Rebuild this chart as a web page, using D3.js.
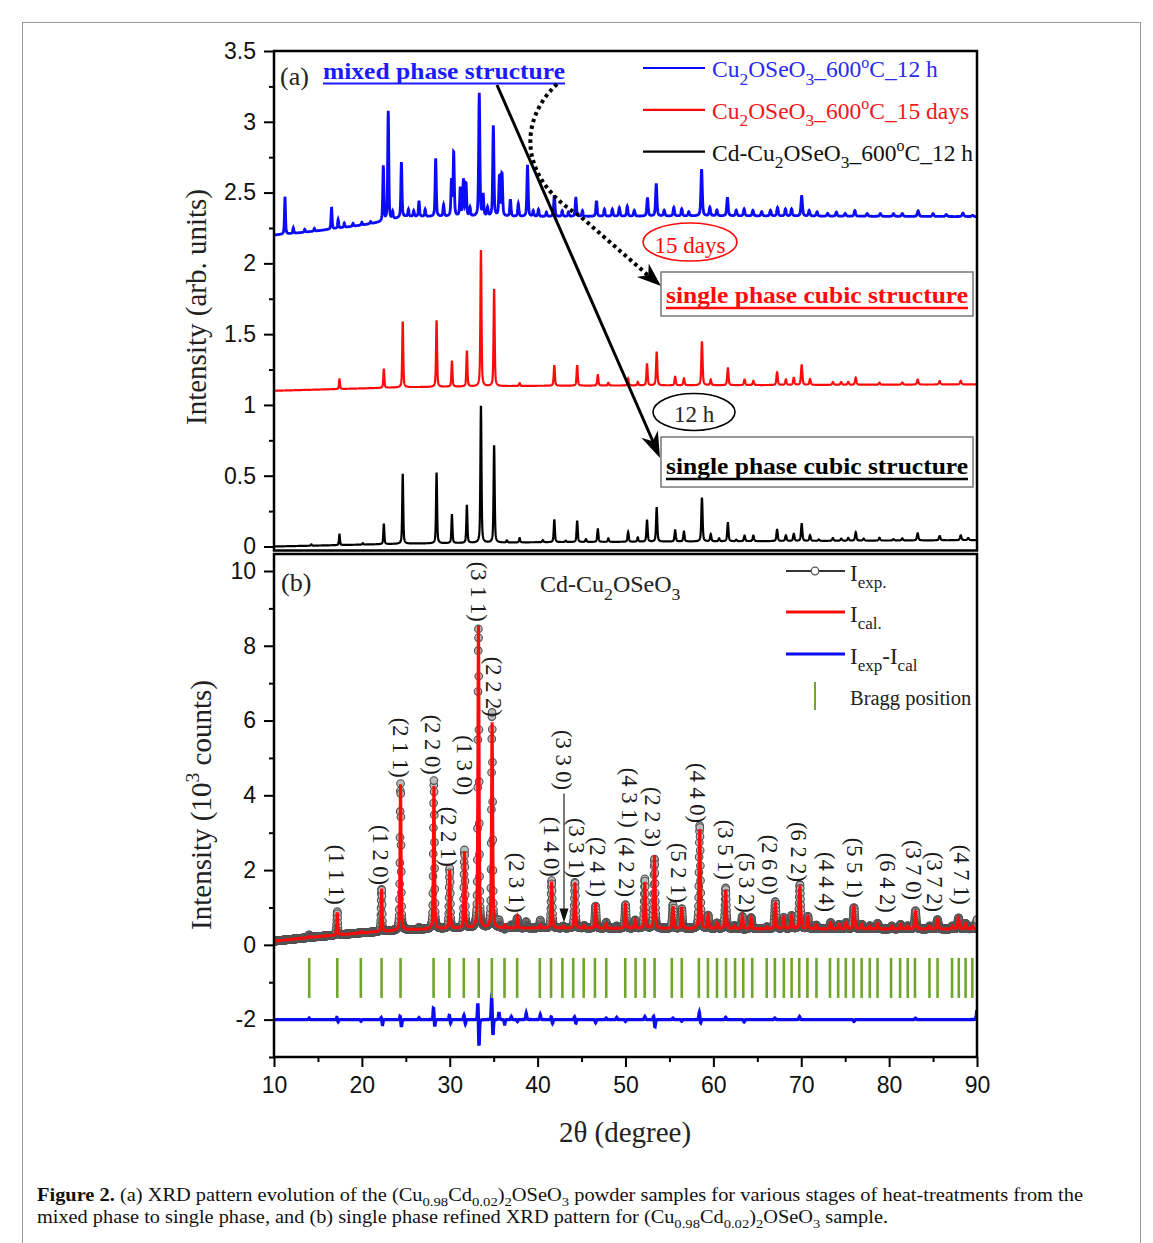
<!DOCTYPE html>
<html><head><meta charset="utf-8">
<script src="https://cdn.jsdelivr.net/npm/d3@7"></script>
<style>body{margin:0;background:#fff}</style>
</head><body>
<script>
// ---------------- DATA ----------------
// (a) panel: peak lists [2theta, net height] and baselines [2theta, value]
const blackBase = [[10,0.0],[25,0.02],[40,0.03],[90,0.045]];
const blackPeaks = [[14.25,0.01],[17.45,0.075],[20.1,0.01],[22.5,0.145],[24.65,0.495],[28.5,0.5],[30.25,0.2],[31.95,0.265],[33.55,0.975],[35.05,0.69],[36.5,0.015],[37.95,0.03],[40.6,0.015],[41.9,0.16],[43.2,0.01],[44.5,0.15],[45.5,0.02],[46.85,0.09],[48.05,0.025],[50.3,0.07],[51.4,0.03],[52.45,0.15],[53.55,0.24],[55.65,0.08],[56.65,0.07],[58.7,0.31],[59.7,0.05],[60.65,0.02],[61.65,0.13],[62.6,0.01],[63.55,0.04],[64.55,0.04],[67.25,0.08],[68.25,0.04],[69.15,0.05],[70.05,0.12],[71.0,0.04],[72.0,0.01],[73.6,0.02],[74.55,0.015],[75.35,0.02],[76.2,0.06],[77.1,0.015],[78.9,0.02],[80.5,0.01],[81.5,0.015],[83.25,0.05],[85.75,0.03],[88.15,0.035],[89.0,0.015]];
const redBase = [[10,1.1],[25,1.125],[40,1.135],[90,1.145]];
const redPeaks = [[17.45,0.07],[22.5,0.135],[24.65,0.465],[28.5,0.47],[30.25,0.18],[31.95,0.25],[33.55,0.97],[35.05,0.69],[37.95,0.02],[41.9,0.145],[44.5,0.145],[46.85,0.075],[48.05,0.02],[50.3,0.05],[51.4,0.025],[52.45,0.15],[53.55,0.235],[55.65,0.06],[56.65,0.05],[58.7,0.31],[59.7,0.04],[61.65,0.12],[63.55,0.04],[64.55,0.03],[67.25,0.09],[68.25,0.04],[69.15,0.05],[70.05,0.14],[71.0,0.04],[73.6,0.02],[74.55,0.02],[75.35,0.02],[76.2,0.05],[78.9,0.015],[81.5,0.015],[83.25,0.035],[85.75,0.025],[88.15,0.025]];
const blueBase = [[10,2.2],[12,2.21],[15,2.23],[20,2.27],[22,2.29],[25,2.33],[40,2.33],[60,2.335],[90,2.33]];
const bluePeaks = [[11.25,0.26],[12.2,0.04],[13.5,0.02],[14.6,0.02],[16.55,0.15],[17.3,0.06],[18.0,0.03],[19.0,0.02],[20.0,0.02],[21.0,0.015],[22.44,0.39],[23.0,0.77],[23.5,0.05],[24.5,0.39],[25.3,0.05],[25.9,0.04],[26.5,0.11],[27.2,0.05],[28.4,0.41],[29.3,0.08],[30.2,0.25],[30.45,0.45],[31.2,0.2],[31.55,0.25],[31.85,0.23],[32.3,0.06],[33.36,0.87],[33.8,0.15],[34.3,0.06],[34.96,0.64],[35.65,0.28],[35.95,0.3],[36.9,0.12],[37.8,0.09],[38.85,0.36],[39.5,0.04],[40.1,0.05],[41.0,0.03],[41.9,0.15],[42.8,0.04],[43.5,0.03],[44.35,0.13],[45.1,0.04],[46.7,0.11],[47.6,0.05],[48.5,0.05],[49.3,0.06],[50.2,0.07],[51.0,0.04],[52.5,0.13],[53.5,0.23],[54.4,0.04],[55.5,0.06],[56.4,0.05],[57.2,0.03],[58.66,0.33],[59.6,0.06],[60.4,0.04],[61.6,0.13],[62.6,0.04],[63.5,0.05],[64.5,0.04],[65.5,0.03],[66.5,0.04],[67.3,0.06],[68.2,0.05],[68.9,0.05],[70.05,0.14],[70.9,0.04],[71.8,0.03],[73.0,0.02],[74.0,0.03],[75.0,0.02],[76.1,0.04],[77.5,0.02],[79.0,0.02],[80.5,0.02],[81.5,0.02],[83.3,0.04],[85.0,0.02],[86.5,0.015],[88.4,0.025],[89.5,0.01]];

// (b) panel: refined pattern (10^3 counts)
const calBase = [[10,0.1],[15,0.22],[20,0.32],[25,0.4],[30,0.44],[40,0.45],[60,0.43],[90,0.42]];
const calPeaks = [[14.0,0.03],[17.2,0.6],[19.9,0.04],[22.25,1.12],[24.4,3.9],[28.2,3.82],[30.0,1.55],[31.68,2.05],[33.27,8.15],[34.82,5.5],[36.25,0.08],[37.68,0.3],[40.3,0.08],[41.6,1.24],[42.9,0.05],[44.25,1.2],[45.3,0.07],[46.6,0.67],[47.8,0.12],[50.0,0.68],[51.1,0.22],[52.2,1.24],[53.3,1.95],[55.4,0.6],[56.4,0.57],[58.45,2.65],[59.4,0.35],[60.4,0.15],[61.4,1.03],[62.4,0.08],[63.3,0.33],[64.3,0.3],[66.1,0.05],[67.05,0.7],[68.0,0.3],[68.9,0.35],[69.85,1.13],[70.75,0.33],[71.7,0.1],[73.35,0.17],[74.3,0.12],[75.1,0.17],[76.0,0.62],[76.9,0.12],[77.8,0.08],[78.7,0.15],[80.3,0.08],[81.3,0.12],[82.1,0.08],[83.0,0.45],[84.6,0.08],[85.5,0.25],[87.2,0.08],[87.9,0.3],[88.7,0.15],[89.5,0.08]];
// I_exp - I_cal features [2theta, amplitude]
const diffFeatures = [[14.0,0.04],[17.15,0.06],[17.3,-0.06],[19.9,-0.04],[22.2,0.06],[22.35,-0.14],[24.35,0.1],[24.5,-0.2],[26.5,0.05],[28.15,0.32],[28.3,-0.2],[29.95,0.12],[30.1,-0.1],[31.62,0.12],[31.78,-0.12],[33.2,0.5],[33.33,-0.75],[34.77,0.6],[34.92,-0.45],[35.6,0.2],[36.25,-0.12],[37.0,0.08],[37.7,-0.05],[38.7,0.17],[40.3,0.13],[41.55,0.08],[41.7,-0.1],[44.2,0.08],[44.35,-0.1],[46.6,-0.08],[47.8,0.04],[49.0,0.06],[50.0,-0.05],[52.2,0.08],[53.2,0.1],[53.35,-0.2],[55.4,0.04],[56.4,-0.04],[58.4,0.2],[58.55,-0.1],[61.4,0.06],[63.5,-0.06],[67.0,0.04],[69.8,0.08],[76.0,-0.05],[83.0,0.04],[90.0,0.25]];
const diffOffset = -2;
const braggPositions = [14.01,17.20,19.88,22.24,24.40,28.16,29.96,31.60,33.30,34.79,36.23,37.67,40.25,41.53,42.82,44.05,45.24,46.52,47.81,49.97,51.15,52.18,53.31,55.27,56.40,58.35,59.38,60.41,61.44,62.47,63.40,64.42,66.07,67.00,68.02,68.90,69.77,70.70,71.73,73.27,74.20,75.07,75.95,76.87,77.80,78.68,80.22,81.25,82.12,82.94,84.59,85.51,87.16,87.93,88.70,89.47];
// Miller labels: [text, 2theta, value at the label's lower end]
const millerLabels = [["(1 1 1)",17.1,1.07],["(1 2 0)",22.2,1.6],["(2 1 1)",24.4,4.47],["(2 2 0)",28.1,4.55],["(2 2 1)",29.9,2.09],["(1 3 0)",31.7,4.0],["(3 1 1)",33.3,8.64],["(2 2 2)",35.0,6.1],["(2 3 1)",37.6,0.86],["(1 4 0)",41.6,1.82],["(3 3 0)",43.0,4.14],["(3 3 1)",44.5,1.79],["(2 4 1)",46.8,1.28],["(4 2 2)",50.1,1.28],["(4 3 1)",50.5,3.13],["(2 2 3)",53.1,2.62],["(4 4 0)",58.25,3.26],["(5 2 1)",56.1,1.12],["(3 5 1)",61.4,1.74],["(5 3 2)",63.8,0.86],["(2 6 0)",66.4,1.34],["(6 2 2)",69.7,1.68],["(4 4 4)",72.9,0.88],["(5 5 1)",76.1,1.26],["(6 4 2)",79.9,0.86],["(3 7 0)",82.8,1.2],["(3 7 2)",85.2,0.88],["(4 7 1)",88.3,1.07]];
const millerArrow = [43.0, 4.05, 0.6];
const xTicks = [10,20,30,40,50,60,70,80,90];
const yTicksA = [0,0.5,1,1.5,2,2.5,3,3.5];
const yTicksB = [-2,0,2,4,6,8,10];
const legendA = [
  [["Cu"],["2","sub"],["OSeO"],["3","sub"],["_600"],["o","sup"],["C_12 h"]],
  [["Cu"],["2","sub"],["OSeO"],["3","sub"],["_600"],["o","sup"],["C_15 days"]],
  [["Cd-Cu"],["2","sub"],["OSeO"],["3","sub"],["_600"],["o","sup"],["C_12 h"]]
];
const legendB = [
  [["I"],["exp.","sub"]],
  [["I"],["cal.","sub"]],
  [["I"],["exp","sub"],["-I"],["cal","sub"]],
  [["Bragg position"]]
];

// ---------------- DRAW ----------------
const W = 1153, H = 1243;
const BLUE = "#0b0bf5", RED = "#ff0a0a", GREEN = "#6fa52b";
const svg = d3.select("body").append("svg").attr("width", W).attr("height", H)
  .style("font-family", "'Liberation Serif', serif");

svg.append("rect").attr("x",22.5).attr("y",22.5).attr("width",1118).attr("height",1240)
  .attr("fill","none").attr("stroke","#9a9a9a").attr("stroke-width",1);

const x = d3.scaleLinear().domain([10,90]).range([274,977]);
const yA = d3.scaleLinear().domain([0,3.5]).range([546.5,51]);
const yB = d3.scaleLinear().domain([-3,10]).range([1057,571]);
const fmt = d => String(d);

const grid = d3.range(10, 90.0001, 0.02);
function profile(peaks, base, w0, w1, eta) {
  const bg = d3.scaleLinear().domain(base.map(d=>d[0])).range(base.map(d=>d[1]));
  return grid.map(t => {
    const w = w0 + (w1-w0)*(t-10)/80;
    let s = bg(t);
    for (const [p,h] of peaks) {
      const u = (t-p)/w, u2 = 4*u*u;
      s += h*(eta/(1+u2) + (1-eta)*Math.exp(-Math.LN2*u2));
    }
    return [t, s];
  });
}

function rich(g, xx, yy, parts, o) {
  const t = g.append("text").attr("x",xx).attr("y",yy)
    .attr("font-family", o.family || "'Liberation Serif', serif")
    .attr("font-size", o.size).attr("fill", o.fill || "#111");
  if (o.weight) t.attr("font-weight", o.weight);
  if (o.anchor) t.attr("text-anchor", o.anchor);
  if (o.len) t.attr("textLength", o.len).attr("lengthAdjust","spacingAndGlyphs");
  let cur = 0;
  parts.forEach(p => {
    const s = p[0], kind = p[1];
    let target = 0, fs = o.size;
    if (kind === "sub") { target = o.size*0.32; fs = o.size*0.74; }
    if (kind === "sup") { target = -o.size*0.4; fs = o.size*0.68; }
    t.append("tspan").attr("dy", target-cur).attr("font-size", fs).text(s);
    cur = target;
  });
  return t;
}

const defs = svg.append("defs");
defs.append("clipPath").attr("id","clipA").append("rect").attr("x",274).attr("y",51).attr("width",703).attr("height",499);
defs.append("clipPath").attr("id","clipB").append("rect").attr("x",274).attr("y",555).attr("width",703).attr("height",502);

// ---------- panel (a) ----------
const gA = svg.append("g");
const lineA = d3.line().x(d=>x(d[0])).y(d=>yA(d[1]));
const dA = gA.append("g").attr("clip-path","url(#clipA)");
dA.append("path").datum(profile(blackPeaks, blackBase, 0.12, 0.2, 0.5)).attr("d", lineA)
  .attr("fill","none").attr("stroke","#000").attr("stroke-width",2.2);
dA.append("path").datum(profile(redPeaks, redBase, 0.12, 0.2, 0.5)).attr("d", lineA)
  .attr("fill","none").attr("stroke",RED).attr("stroke-width",2.2);
dA.append("path").datum(profile(bluePeaks, blueBase, 0.13, 0.22, 0.5)).attr("d", lineA)
  .attr("fill","none").attr("stroke",BLUE).attr("stroke-width",2.8);

// axis (a)
const axA = gA.append("g").attr("transform","translate(274,0)");
axA.call(d3.axisLeft(yA).tickValues(yTicksA).tickSize(10).tickPadding(8).tickFormat(fmt));
axA.append("g").call(d3.axisLeft(yA).tickValues(d3.range(0.25,3.5,0.5)).tickSize(5).tickFormat(""));
axA.selectAll(".domain").remove();
axA.selectAll("line").attr("stroke","#000").attr("stroke-width",2);
axA.selectAll("text").attr("font-family","'Liberation Sans', Arial, sans-serif").attr("font-size",23).attr("fill","#111");
gA.append("rect").attr("x",274).attr("y",51).attr("width",703).attr("height",499.5)
  .attr("fill","none").attr("stroke","#000").attr("stroke-width",2.5);

// annotations (a)
gA.append("text").attr("x",280).attr("y",85).attr("font-size",26).attr("fill","#222").text("(a)");
gA.append("text").attr("x",323).attr("y",79).attr("font-size",23).attr("font-weight","bold")
  .attr("fill","#1a1aff").attr("textLength",242).attr("lengthAdjust","spacingAndGlyphs").text("mixed phase structure");
gA.append("line").attr("x1",323).attr("x2",565).attr("y1",83.5).attr("y2",83.5).attr("stroke","#1a1aff").attr("stroke-width",2);

const legColors = [BLUE, RED, "#000"];
const legTextColors = ["#2a2af0", "#f01818", "#111"];
legendA.forEach((parts,i) => {
  const ly = 68 + i*41.8;
  gA.append("line").attr("x1",643).attr("x2",705).attr("y1",ly).attr("y2",ly).attr("stroke",legColors[i]).attr("stroke-width",2.2);
  rich(gA, 712, ly+9, parts, {size:23.5, fill:legTextColors[i]});
});

function arrowHead(g, x1, y1, x2, y2, len, half) {
  const dx = x2-x1, dy = y2-y1, L = Math.hypot(dx,dy), ux = dx/L, uy = dy/L;
  const bx = x2-ux*len, by = y2-uy*len, nx = -uy, ny = ux;
  const mx = x2-ux*len*0.7, my = y2-uy*len*0.7;
  g.append("path").attr("d", `M${x2},${y2}L${bx+nx*half},${by+ny*half}L${mx},${my}L${bx-nx*half},${by-ny*half}Z`).attr("fill","#000");
}
// solid arrow
gA.append("line").attr("x1",497).attr("y1",85).attr("x2",655).attr("y2",446).attr("stroke","#000").attr("stroke-width",3);
arrowHead(gA, 497, 85, 660, 458, 26, 9);
// dotted arrow
gA.append("path").attr("d","M557,84 C517,122 520,180 580,216 L650,277")
  .attr("fill","none").attr("stroke","#000").attr("stroke-width",4).attr("stroke-dasharray","3.5,3.5");
arrowHead(gA, 580, 216, 661, 286, 24, 9);

gA.append("ellipse").attr("cx",690).attr("cy",242).attr("rx",47).attr("ry",19).attr("fill","none").attr("stroke",RED).attr("stroke-width",1.6);
gA.append("text").attr("x",690).attr("y",253).attr("text-anchor","middle").attr("font-size",23).attr("fill",RED).text("15 days");
gA.append("ellipse").attr("cx",694).attr("cy",412).attr("rx",41).attr("ry",18.5).attr("fill","none").attr("stroke","#000").attr("stroke-width",1.6);
gA.append("text").attr("x",694).attr("y",422).attr("text-anchor","middle").attr("font-size",23).attr("fill","#222").text("12 h");

[[272,44,303,308,RED],[437,50,474,479,"#000"]].forEach(([ry,rh,ty,uy,col]) => {
  gA.append("rect").attr("x",661).attr("y",ry).attr("width",312).attr("height",rh).attr("fill","#fff").attr("stroke","#777").attr("stroke-width",1.5);
  gA.append("text").attr("x",666).attr("y",ty).attr("font-size",23).attr("font-weight","bold").attr("fill",col)
    .attr("textLength",302).attr("lengthAdjust","spacingAndGlyphs").text("single phase cubic structure");
  gA.append("line").attr("x1",666).attr("x2",968).attr("y1",uy).attr("y2",uy).attr("stroke",col).attr("stroke-width",2.5);
});

// ---------- panel (b) ----------
const gB = svg.append("g");
const cal = profile(calPeaks, calBase, 0.13, 0.22, 0.45);
const diff = profile(diffFeatures, [[10,0],[90,0]], 0.1, 0.14, 0.5);
const exp = cal.map((d,i) => [d[0], d[1] + diff[i][1]]);
const lineB = d3.line().x(d=>x(d[0])).y(d=>yB(d[1]));
const dB = gB.append("g").attr("clip-path","url(#clipB)");
dB.append("g").selectAll("circle").data(exp).join("circle")
  .attr("cx", d=>x(d[0])).attr("cy", d=>yB(d[1])).attr("r",3.8)
  .attr("fill","#bdbdbd").attr("stroke","#505050").attr("stroke-width",1.1);
dB.append("path").datum(cal).attr("d", lineB).attr("fill","none").attr("stroke",RED).attr("stroke-width",3);
dB.append("path").datum(diff.map(d=>[d[0], d[1]+diffOffset])).attr("d", lineB)
  .attr("fill","none").attr("stroke",BLUE).attr("stroke-width",3.4);
dB.append("g").selectAll("line").data(braggPositions).join("line")
  .attr("x1", d=>x(d)).attr("x2", d=>x(d)).attr("y1", yB(-0.35)).attr("y2", yB(-1.42))
  .attr("stroke",GREEN).attr("stroke-width",2.6);

// Miller labels
gB.append("g").selectAll("text").data(millerLabels).join("text")
  .attr("transform", d=>`translate(${x(d[1])},${yB(d[2])}) rotate(90)`)
  .attr("text-anchor","end").attr("dy","0.35em").attr("font-size",22.5).attr("fill","#1a1a1a")
  .text(d=>d[0]);
gB.append("line").attr("x1",x(millerArrow[0])).attr("x2",x(millerArrow[0]))
  .attr("y1",yB(millerArrow[1])).attr("y2",yB(millerArrow[2])-12).attr("stroke","#222").attr("stroke-width",1.2);
gB.append("path").attr("d",`M${x(millerArrow[0])},${yB(millerArrow[2])}l-4.5,-14h9z`).attr("fill","#111");

// axes (b)
const axBy = gB.append("g").attr("transform","translate(274,0)");
axBy.call(d3.axisLeft(yB).tickValues(yTicksB).tickSize(10).tickPadding(8).tickFormat(fmt));
axBy.append("g").call(d3.axisLeft(yB).tickValues([-3,-1,1,3,5,7,9]).tickSize(5).tickFormat(""));
const axBx = gB.append("g").attr("transform","translate(0,1057)");
axBx.call(d3.axisBottom(x).tickValues(xTicks).tickSize(10).tickPadding(10).tickFormat(fmt));
axBx.append("g").call(d3.axisBottom(x).tickValues(d3.range(15,90,10)).tickSize(5).tickFormat(""));
[axBy, axBx].forEach(a => {
  a.selectAll(".domain").remove();
  a.selectAll("line").attr("stroke","#000").attr("stroke-width",2);
  a.selectAll("text").attr("font-family","'Liberation Sans', Arial, sans-serif").attr("font-size",23).attr("fill","#111");
});
gB.append("rect").attr("x",274).attr("y",554).attr("width",703).attr("height",503)
  .attr("fill","none").attr("stroke","#000").attr("stroke-width",2.5);

gB.append("text").attr("x",281).attr("y",591).attr("font-size",26).attr("fill","#222").text("(b)");
rich(gB, 540, 592, [["Cd-Cu"],["2","sub"],["OSeO"],["3","sub"]], {size:24, fill:"#222"});

// legend (b)
const lgx1 = 786, lgx2 = 845, ltx = 850;
const lys = [571, 612, 654, 696];
gB.append("line").attr("x1",lgx1).attr("x2",lgx2).attr("y1",lys[0]).attr("y2",lys[0]).attr("stroke","#333").attr("stroke-width",2);
gB.append("circle").attr("cx",815).attr("cy",lys[0]).attr("r",3.8).attr("fill","#fff").attr("stroke","#555").attr("stroke-width",1.3);
gB.append("line").attr("x1",lgx1).attr("x2",lgx2).attr("y1",lys[1]).attr("y2",lys[1]).attr("stroke",RED).attr("stroke-width",3);
gB.append("line").attr("x1",lgx1).attr("x2",lgx2).attr("y1",lys[2]).attr("y2",lys[2]).attr("stroke",BLUE).attr("stroke-width",3);
gB.append("line").attr("x1",815).attr("x2",815).attr("y1",682).attr("y2",710).attr("stroke",GREEN).attr("stroke-width",2);
legendB.forEach((parts,i) => {
  if (i < 3) rich(gB, ltx, lys[i]+10, parts, {size:23, fill:"#222"});
  else rich(gB, ltx, 705, parts, {size:20.5, fill:"#222"});
});

// axis titles
svg.append("text").attr("transform","translate(206,307) rotate(-90)").attr("text-anchor","middle")
  .attr("font-size",29).attr("fill","#222").text("Intensity (arb. units)");
rich(svg.append("g").attr("transform","translate(211,805) rotate(-90)"), 0, 0,
  [["Intensity (10"],["3","sup"],[" counts)"]], {size:29, fill:"#222", anchor:"middle"});
rich(svg, 625, 1142, [["2θ (degree)"]], {size:29, fill:"#222", anchor:"middle"});

// caption
const cap1 = svg.append("text").attr("x",37).attr("y",1201).attr("font-size",18).attr("fill","#111")
  .attr("textLength",1046).attr("lengthAdjust","spacingAndGlyphs");
cap1.append("tspan").attr("font-weight","bold").text("Figure 2.");
const capParts1 = [[" (a) XRD pattern evolution of the (Cu"],["0.98","sub"],["Cd"],["0.02","sub"],[")"],["2","sub"],["OSeO"],["3","sub"],[" powder samples for various stages of heat-treatments from the"]];
const capParts2 = [["mixed phase to single phase, and (b) single phase refined XRD pattern for (Cu"],["0.98","sub"],["Cd"],["0.02","sub"],[")"],["2","sub"],["OSeO"],["3","sub"],[" sample."]];
function capAppend(t, parts, size) {
  let cur = 0;
  parts.forEach(p => {
    const target = p[1]==="sub" ? size*0.3 : 0;
    t.append("tspan").attr("dy", target-cur).attr("font-size", p[1]==="sub" ? size*0.72 : size).text(p[0]);
    cur = target;
  });
}
capAppend(cap1, capParts1, 18);
const cap2 = svg.append("text").attr("x",37).attr("y",1223).attr("font-size",18).attr("fill","#111")
  .attr("textLength",851).attr("lengthAdjust","spacingAndGlyphs");
capAppend(cap2, capParts2, 18);
</script>
</body></html>
